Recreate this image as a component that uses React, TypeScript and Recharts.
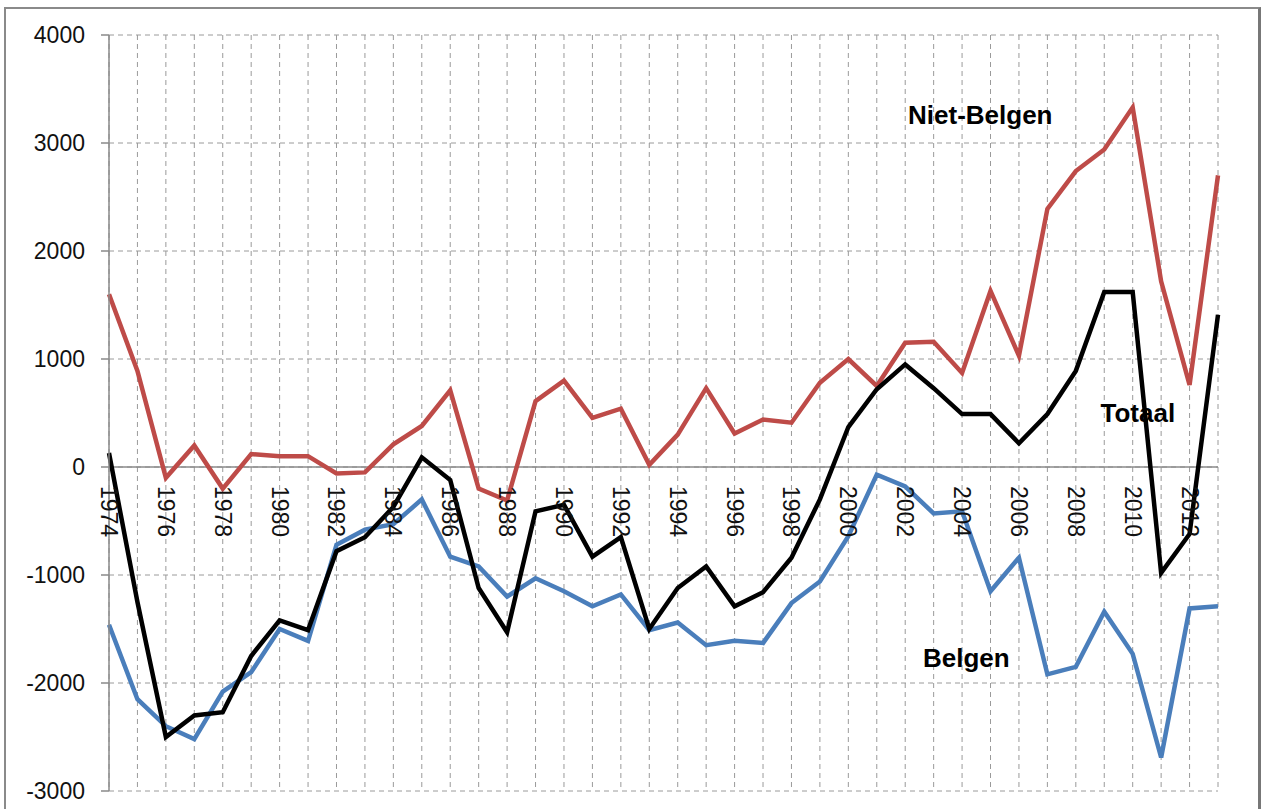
import { CartesianGrid, Line, LineChart, ReferenceDot, ReferenceLine, XAxis, YAxis } from "recharts";

const years = [
  1974, 1975, 1976, 1977, 1978, 1979, 1980, 1981, 1982, 1983,
  1984, 1985, 1986, 1987, 1988, 1989, 1990, 1991, 1992, 1993,
  1994, 1995, 1996, 1997, 1998, 1999, 2000, 2001, 2002, 2003,
  2004, 2005, 2006, 2007, 2008, 2009, 2010, 2011, 2012, 2013,
];

const belgen = [
  -1460, -2150, -2400, -2520, -2080, -1900, -1500, -1610, -720, -580,
  -530, -300, -830, -920, -1200, -1030, -1150, -1290, -1180, -1510,
  -1440, -1650, -1610, -1630, -1260, -1060, -640, -70, -180, -430,
  -410, -1150, -840, -1920, -1850, -1340, -1730, -2690, -1310, -1290,
];

const nietBelgen = [
  1600, 890, -100, 200, -200, 120, 100, 100, -60, -50,
  210, 380, 710, -200, -310, 610, 800, 455, 540, 20,
  300, 730, 310, 440, 410, 780, 1000, 750, 1150, 1160,
  870, 1630, 1030, 2390, 2740, 2940, 3330, 1720, 760, 2700,
];

const totaal = [
  130, -1250, -2500, -2300, -2270, -1750, -1420, -1510, -780, -650,
  -370, 90, -120, -1120, -1530, -410, -350, -830, -650, -1500,
  -1120, -920, -1290, -1160, -840, -300, 370, 720, 950, 730,
  490, 490, 220, 490, 890, 1620, 1620, -980, -620, 1410,
];

const yTicks = [-3000, -2000, -1000, 0, 1000, 2000, 3000, 4000];

const seriesLabels = [
  { text: "Niet-Belgen", year: 2004.64, value: 3266 },
  { text: "Totaal", year: 2010.18, value: 506 },
  { text: "Belgen", year: 2004.15, value: -1762 },
];

const W = 1266;
const H = 809;
const margin = { top: 35, right: 48, bottom: 17, left: 9 };
const X_AXIS_H = 1;
const Y_MIN = -3000;
const Y_MAX = 4000;
const FONT = "'Liberation Sans', Arial, sans-serif";

const data = years.map((year, i) => ({
  year,
  belgen: belgen[i],
  nietBelgen: nietBelgen[i],
  totaal: totaal[i],
}));

// year labels sit on the zero line, rotated, every second year
function renderYearTick(props: any) {
  const { x, y, payload } = props;
  if (payload.value % 2 !== 0) return <g />;
  const plotH = H - margin.top - margin.bottom - X_AXIS_H;
  const zeroY = y - (plotH * (0 - Y_MIN)) / (Y_MAX - Y_MIN);
  const ty = zeroY + 19;
  return (
    <text
      x={x}
      y={ty}
      dy="0.35em"
      transform={`rotate(90, ${x}, ${ty})`}
      textAnchor="start"
      fontSize={23}
      fontFamily={FONT}
      fill="#111"
    >
      {payload.value}
    </text>
  );
}

export default function App() {
  return (
    <div style={{ position: "absolute", left: 0, top: 0, width: W, height: H, background: "#fff", overflow: "hidden" }}>
      <div
        style={{
          position: "absolute",
          left: 4,
          top: 7,
          width: 1252,
          height: 820,
          border: "2px solid #8a8a8a",
          borderRightWidth: 3,
          borderRightColor: "#777",
        }}
      />
      <div style={{ position: "absolute", left: 0, top: 0 }}>
        <LineChart width={W} height={H} data={data} margin={margin}>
          <CartesianGrid stroke="#9a9a9a" strokeDasharray="5 4" strokeWidth={1} />
          <XAxis
            dataKey="year"
            type="number"
            domain={[1974, 2013]}
            ticks={years}
            interval={0}
            height={X_AXIS_H}
            axisLine={false}
            tickLine={false}
            tickSize={0}
            tickMargin={0}
            tick={renderYearTick}
          />
          <YAxis
            type="number"
            domain={[Y_MIN, Y_MAX]}
            ticks={yTicks}
            interval={0}
            width={100}
            axisLine={{ stroke: "#8a8a8a", strokeWidth: 1.5 }}
            tickLine={{ stroke: "#8a8a8a", strokeWidth: 1.5 }}
            tickSize={8}
            tickMargin={16}
            tick={{ fontSize: 23, fontFamily: FONT, fill: "#111" }}
          />
          <ReferenceLine y={0} stroke="#8a8a8a" strokeWidth={1.5} />
          <Line
            type="linear"
            dataKey="belgen"
            stroke="#4a7ebb"
            strokeWidth={4.5}
            dot={false}
            isAnimationActive={false}
          />
          <Line
            type="linear"
            dataKey="nietBelgen"
            stroke="#be4b48"
            strokeWidth={4.5}
            dot={false}
            isAnimationActive={false}
          />
          <Line
            type="linear"
            dataKey="totaal"
            stroke="#000"
            strokeWidth={4.5}
            dot={false}
            isAnimationActive={false}
          />
          {seriesLabels.map((l) => (
            <ReferenceDot
              key={l.text}
              x={l.year}
              y={l.value}
              r={0}
              fill="none"
              stroke="none"
              label={{
                value: l.text,
                position: "center",
                fontSize: 26,
                fontWeight: "bold",
                fontFamily: FONT,
                fill: "#000",
              }}
            />
          ))}
        </LineChart>
      </div>
    </div>
  );
}
